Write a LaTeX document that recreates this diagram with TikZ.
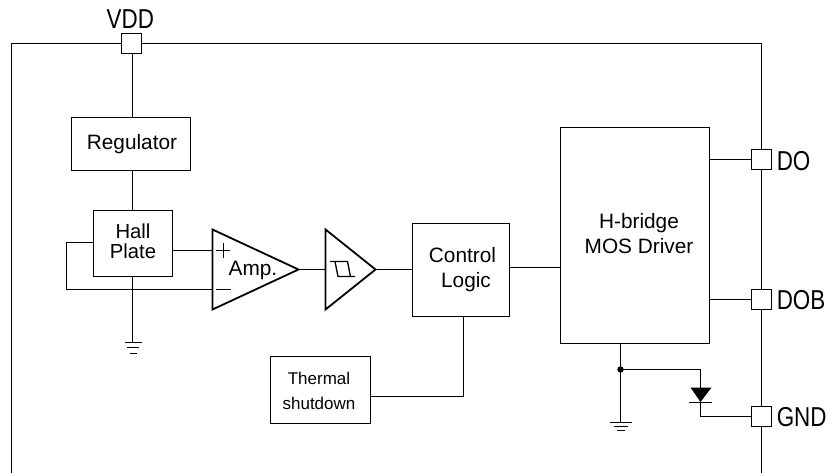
\documentclass[tikz,border=0pt]{standalone}
\usepackage{graphicx}
\usepackage{fontspec}
\setmainfont{Liberation Sans}
\newcommand{\narrowpin}[1]{\scalebox{0.82}[1]{#1}}
\begin{document}
\begin{tikzpicture}[x=0.75pt,y=-0.75pt,
  wire/.style={draw=black,line width=1.35pt},
  blockbox/.style={draw=black,line width=1.35pt,fill=white,inner sep=0pt,outer sep=0pt},
  pad/.style={draw=black,line width=1.35pt,fill=white,minimum width=15pt,minimum height=15pt,inner sep=0pt,outer sep=0pt},
  padlabel/.style={inner sep=0pt,font=\fontsize{20.5}{22}\selectfont},
  bigtext/.style={inner sep=0pt,align=center,font=\fontsize{15.6}{18.75}\selectfont},
  small/.style={inner sep=0pt,align=center,font=\fontsize{12.75}{18.75}\selectfont},
  gndbar/.style={draw=black,line width=1.1pt}]
\useasboundingbox (0,0) rectangle (827,473);
% frame
\coordinate (fbl) at (11.5,473);
\coordinate (ftl) at (11.5,43.5);
\coordinate (ftr) at (761.5,43.5);
\coordinate (fbr) at (761.5,473);
\draw[wire] (fbl) -- (ftl) -- (ftr) -- (fbr);
\coordinate (wx) at (132.5,0);
% blocks
\node[blockbox,minimum width=89.25pt,minimum height=39.75pt] (reg) at (131,144) {};
\node[blockbox,minimum width=59.25pt,minimum height=49.5pt] (hall) at (133,243.5) {};
\node[blockbox,minimum width=72.75pt,minimum height=69.75pt] (logic) at (461,270) {};
\node[blockbox,minimum width=111.75pt,minimum height=162pt] (bridge) at (635,235.5) {};
\node[blockbox,minimum width=75pt,minimum height=50.25pt] (therm) at (320.5,390) {};
% block texts
\node[bigtext] (regt) at (132,144.5) {Regulator};
\node[bigtext,font=\fontsize{15.2}{15}\selectfont] (hallt) at (133,241.5) {Hall\\Plate};
\node[bigtext] (logict) at (462.5,270) {Control\\\hspace*{5.25pt}Logic};
\node[bigtext] (bridget) at (639,233.5) {H-bridge\\MOS Driver};
\node[small] (thermt) at (319,391) {Thermal\\shutdown};
% pads
\node[pad] (vdd) at (131.5,43.5) {};
\node[pad] (do) at (761.5,159.5) {};
\node[pad] (dob) at (761.5,299.5) {};
\node[pad] (gnd) at (761.5,416.5) {};
\node[padlabel,anchor=base] (vddl) at (130.4,28.5) {\narrowpin{VDD}};
\node[padlabel,anchor=base west] (dol) at (776.5,170.5) {\narrowpin{DO}};
\node[padlabel,anchor=base west] (dobl) at (776.5,309.5) {\narrowpin{DOB}};
\node[padlabel,anchor=base west] (gndl) at (776.5,426) {\narrowpin{GND}};
% amplifiers
\coordinate (aT) at (212.5,229.5); \coordinate (aB) at (212.5,309.5); \coordinate (aO) at (298.5,269.5);
\coordinate (aP) at (212.5,250.5); \coordinate (aN) at (212.5,289.5);
\draw[wire,line join=miter] (aT) -- (aO) -- (aB) -- cycle;
\coordinate (sT) at (325.5,229.5); \coordinate (sB) at (325.5,309.5); \coordinate (sO) at (375.5,269.5); \coordinate (sI) at (325.5,269.5);
\draw[wire,line join=miter] (sT) -- (sO) -- (sB) -- cycle;
\node[bigtext] (amp) at (253,270.5) {Amp.};
\draw[wire,line width=1.1pt] (216,250.5) -- (230,250.5) (223.5,243) -- (223.5,258) (216,289.5) -- (231,289.5);
% hysteresis symbol
\draw[wire,line width=1pt] (330,261.5) -- (348,261.5) (335,261.5) -- (338,276.5) -- (355,276.5) (347.5,261.5) -- (350.5,276.5);
% connectors
\draw[wire] (vdd.south -| wx) -- (reg.north -| wx);
\draw[wire] (reg.south -| wx) -- (hall.north -| wx);
\draw[wire] (hall.east |- aP) -- (aP);
\coordinate (fb1) at (66.5,242.5); \coordinate (fb2) at (66.5,289.5);
\draw[wire] (hall.west |- fb1) -- (fb1) -- (fb2) -- (aN);
\coordinate (hg) at (132.5,342.5);
\draw[wire] (hall.south -| hg) -- (hg);
\draw[gndbar] (124.5,342.5) -- (141.5,342.5) (127,347.5) -- (139,347.5) (130,353.5) -- (137,353.5);
\draw[wire] (aO) -- (sI);
\draw[wire] (sO) -- (logic.west |- sO);
\coordinate (ly) at (0,267.5);
\draw[wire] (logic.east |- ly) -- (bridge.west |- ly);
\coordinate (tk) at (463.5,396.5);
\draw[wire] (tk |- logic.south) -- (tk) -- (therm.east |- tk);
\draw[wire] (bridge.east |- do) -- (do.west);
\draw[wire] (bridge.east |- dob) -- (dob.west);
% ground and diode
\coordinate (bg) at (620.5,422.5);
\coordinate (jn) at (620.5,369.5);
\draw[wire] (bg |- bridge.south) -- (bg);
\fill[black] (jn) circle (2.4pt);
\draw[gndbar] (610,422.5) -- (632,422.5) (614,426.5) -- (628,426.5) (617,430.5) -- (625,430.5);
\coordinate (dk) at (700.5,369.5); \coordinate (dg) at (700.5,416.5);
\draw[wire] (jn) -- (dk) -- (dg) -- (gnd.west |- dg);
\fill[black] (690.5,387.5) -- (711.5,387.5) -- (700.5,402) -- cycle;
\draw[gndbar] (689,402.5) -- (712,402.5);
\end{tikzpicture}
\end{document}
